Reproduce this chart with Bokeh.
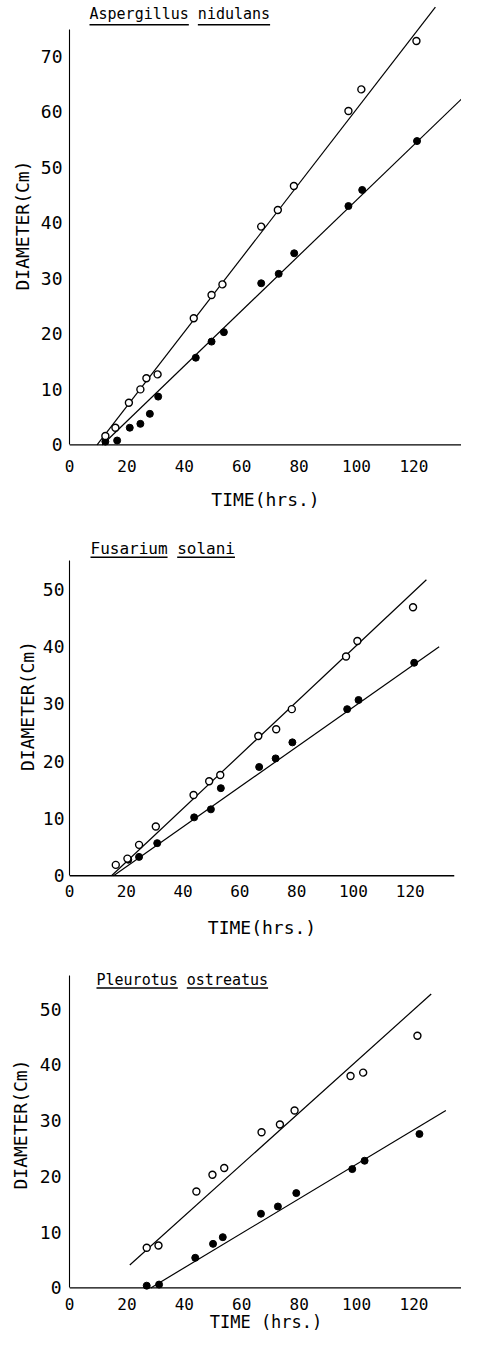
from bokeh.plotting import figure
from bokeh.models import Range1d, FixedTicker, Label, BoxAnnotation, Span
from bokeh.layouts import column
from bokeh.embed import file_html
from bokeh.resources import INLINE

# ---------------- data ----------------
x_ticks = [0, 20, 40, 60, 80, 100, 120]

# Aspergillus nidulans
asp_t_open = [12.5, 16.0, 20.7, 24.7, 26.8, 30.7, 43.3, 49.5, 53.3, 66.8, 72.6, 78.2, 97.2, 101.7, 120.9]
asp_d_open = [1.6, 3.1, 7.6, 10.0, 12.0, 12.7, 22.8, 27.0, 28.9, 39.3, 42.3, 46.6, 60.1, 64.0, 72.7]
asp_t_fill = [12.5, 16.6, 21.0, 24.7, 28.0, 30.9, 44.0, 49.5, 53.8, 66.8, 72.9, 78.3, 97.2, 102.0, 121.1]
asp_d_fill = [0.6, 0.8, 3.1, 3.8, 5.6, 8.7, 15.7, 18.6, 20.3, 29.1, 30.8, 34.5, 43.0, 45.9, 54.7]
asp_fit_open_t = [9.6, 127.5]
asp_fit_open_d = [0.0, 78.8]
asp_fit_fill_t = [11.4, 140.7]
asp_fit_fill_d = [0.0, 64.3]
asp_y_ticks = [0, 10, 20, 30, 40, 50, 60, 70]

# Fusarium solani
fus_t_open = [16.3, 20.4, 24.5, 30.4, 43.7, 49.2, 53.1, 66.5, 72.8, 78.3, 97.4, 101.4, 121.0]
fus_d_open = [1.9, 3.0, 5.4, 8.6, 14.1, 16.5, 17.6, 24.4, 25.6, 29.1, 38.3, 41.0, 46.9]
fus_t_fill = [20.7, 24.5, 30.9, 43.9, 49.8, 53.3, 66.8, 72.6, 78.5, 97.8, 101.8, 121.4]
fus_d_fill = [2.8, 3.3, 5.7, 10.2, 11.6, 15.3, 19.0, 20.5, 23.3, 29.1, 30.7, 37.2]
fus_fit_open_t = [14.8, 125.7]
fus_fit_open_d = [0.0, 51.7]
fus_fit_fill_t = [15.5, 130.2]
fus_fit_fill_d = [0.0, 40.0]
fus_y_ticks = [0, 10, 20, 30, 40, 50]

# Pleurotus ostreatus
ple_t_open = [26.9, 31.0, 44.2, 49.8, 53.9, 66.9, 73.3, 78.4, 97.9, 102.3, 121.2]
ple_d_open = [7.2, 7.6, 17.3, 20.3, 21.5, 27.9, 29.3, 31.8, 38.0, 38.6, 45.2]
ple_t_fill = [26.9, 31.2, 43.8, 50.0, 53.4, 66.7, 72.6, 79.0, 98.5, 102.8, 121.9]
ple_d_fill = [0.4, 0.6, 5.4, 7.9, 9.1, 13.3, 14.6, 17.0, 21.3, 22.8, 27.6]
ple_fit_open_t = [21.0, 126.0]
ple_fit_open_d = [4.1, 52.7]
ple_fit_fill_t = [28.3, 131.1]
ple_fit_fill_d = [0.0, 31.8]
ple_y_ticks = [0, 10, 20, 30, 40, 50]

FONT = "DejaVu Sans Mono"


def make_panel(words, t_open, d_open, t_fill, d_fill, fo_t, fo_d, ff_t, ff_d,
               y_ticks, xlabel, g):
    p = figure(frame_width=g["fw"], frame_height=g["fh"],
               x_range=Range1d(0, g["x_end"]), y_range=Range1d(-1, g["y_top"]),
               output_backend="svg", toolbar_location=None,
               min_border_left=g["bl"], min_border_right=g["br"],
               min_border_top=0, min_border_bottom=g["bb"],
               background_fill_color="white", border_fill_color="white")
    p.outline_line_color = None
    p.grid.visible = False

    xa = p.xaxis[0]
    xa.ticker = FixedTicker(ticks=x_ticks)
    xa.axis_line_color = None
    xa.major_tick_line_color = None
    xa.major_tick_in = 0
    xa.major_tick_out = 0
    xa.minor_tick_line_color = None
    xa.major_label_text_font = FONT
    xa.major_label_text_font_size = "16px"
    xa.major_label_text_color = "black"
    xa.major_label_standoff = g["xs"]
    xa.axis_label = xlabel
    xa.axis_label_text_font = FONT
    xa.axis_label_text_font_size = g["xlfs"]
    xa.axis_label_text_font_style = "normal"
    xa.axis_label_text_color = "black"
    xa.axis_label_standoff = g["xls"]
    # the time axis line itself sits at diameter 0
    p.add_layout(Span(location=0, dimension="width", line_color="black", line_width=1.3))

    ya = p.yaxis[0]
    ya.ticker = FixedTicker(ticks=y_ticks)
    ya.bounds = (0, g["y_axis_top"])
    ya.major_tick_in = 0
    ya.major_tick_out = 0
    ya.minor_tick_line_color = None
    ya.axis_line_width = 1.1
    ya.axis_line_color = "black"
    ya.major_label_text_font = FONT
    ya.major_label_text_font_size = "18px"
    ya.major_label_text_color = "black"
    ya.major_label_standoff = g["ys"]
    ya.axis_label = "DIAMETER(Cm)"
    ya.axis_label_text_font = FONT
    ya.axis_label_text_font_size = "18px"
    ya.axis_label_text_font_style = "normal"
    ya.axis_label_text_color = "black"
    ya.axis_label_standoff = g["yls"]

    p.line(fo_t, fo_d, line_color="black", line_width=1.2)
    p.line(ff_t, ff_d, line_color="black", line_width=1.2)
    p.scatter(t_fill, d_fill, marker="circle", size=7, fill_color="black",
              line_color="black", line_width=1)
    p.scatter(t_open, d_open, marker="circle", size=7, fill_color="white",
              line_color="black", line_width=1.4)

    # underlined species name (two words)
    fs = g["tfs"]
    cw = 0.602 * fs
    p.add_layout(Label(x=g["tx"], y=g["ty"], x_units="screen", y_units="screen",
                       text=" ".join(words), text_font=FONT,
                       text_font_size=f"{fs}px", text_color="black",
                       text_baseline="alphabetic", text_align="left"))
    start = 0
    for w in words:
        left = g["tx"] + start * cw
        right = left + len(w) * cw
        p.add_layout(BoxAnnotation(left=left, right=right,
                                   bottom=g["uy"] - 0.7, top=g["uy"] + 0.7,
                                   left_units="screen", right_units="screen",
                                   bottom_units="screen", top_units="screen",
                                   fill_color="black", fill_alpha=1.0,
                                   line_color=None))
        start += len(w) + 1
    return p


g1 = dict(fw=392, fh=450, x_end=136.6, y_top=80.0, y_axis_top=74.8,
          bl=69, br=0, bb=80, xs=9, xls=14, xlfs="18px", ys=7, yls=5,
          tfs=15, tx=20, ty=436.7, uy=425.8)
g2 = dict(fw=385, fh=351, x_end=135.6, y_top=60.3, y_axis_top=55.0,
          bl=67, br=9, bb=74, xs=3, xls=17, xlfs="18px", ys=5, yls=2,
          tfs=16, tx=21, ty=333, uy=324.3)
g3 = dict(fw=393, fh=338, x_end=136.9, y_top=59.6, y_axis_top=56.0,
          bl=68, br=0, bb=38, xs=4, xls=-1, xlfs="17px", ys=8, yls=6,
          tfs=15, tx=27, ty=314, uy=305.5)

p1 = make_panel(["Aspergillus", "nidulans"], asp_t_open, asp_d_open, asp_t_fill, asp_d_fill,
                asp_fit_open_t, asp_fit_open_d, asp_fit_fill_t, asp_fit_fill_d,
                asp_y_ticks, "TIME(hrs.)", g1)
p2 = make_panel(["Fusarium", "solani"], fus_t_open, fus_d_open, fus_t_fill, fus_d_fill,
                fus_fit_open_t, fus_fit_open_d, fus_fit_fill_t, fus_fit_fill_d,
                fus_y_ticks, "TIME(hrs.)", g2)
p3 = make_panel(["Pleurotus", "ostreatus"], ple_t_open, ple_d_open, ple_t_fill, ple_d_fill,
                ple_fit_open_t, ple_fit_open_d, ple_fit_fill_t, ple_fit_fill_d,
                ple_y_ticks, "TIME (hrs.)", g3)

layout = column(p1, p2, p3, spacing=0)
open("out.html", "w").write(file_html(layout, INLINE))
